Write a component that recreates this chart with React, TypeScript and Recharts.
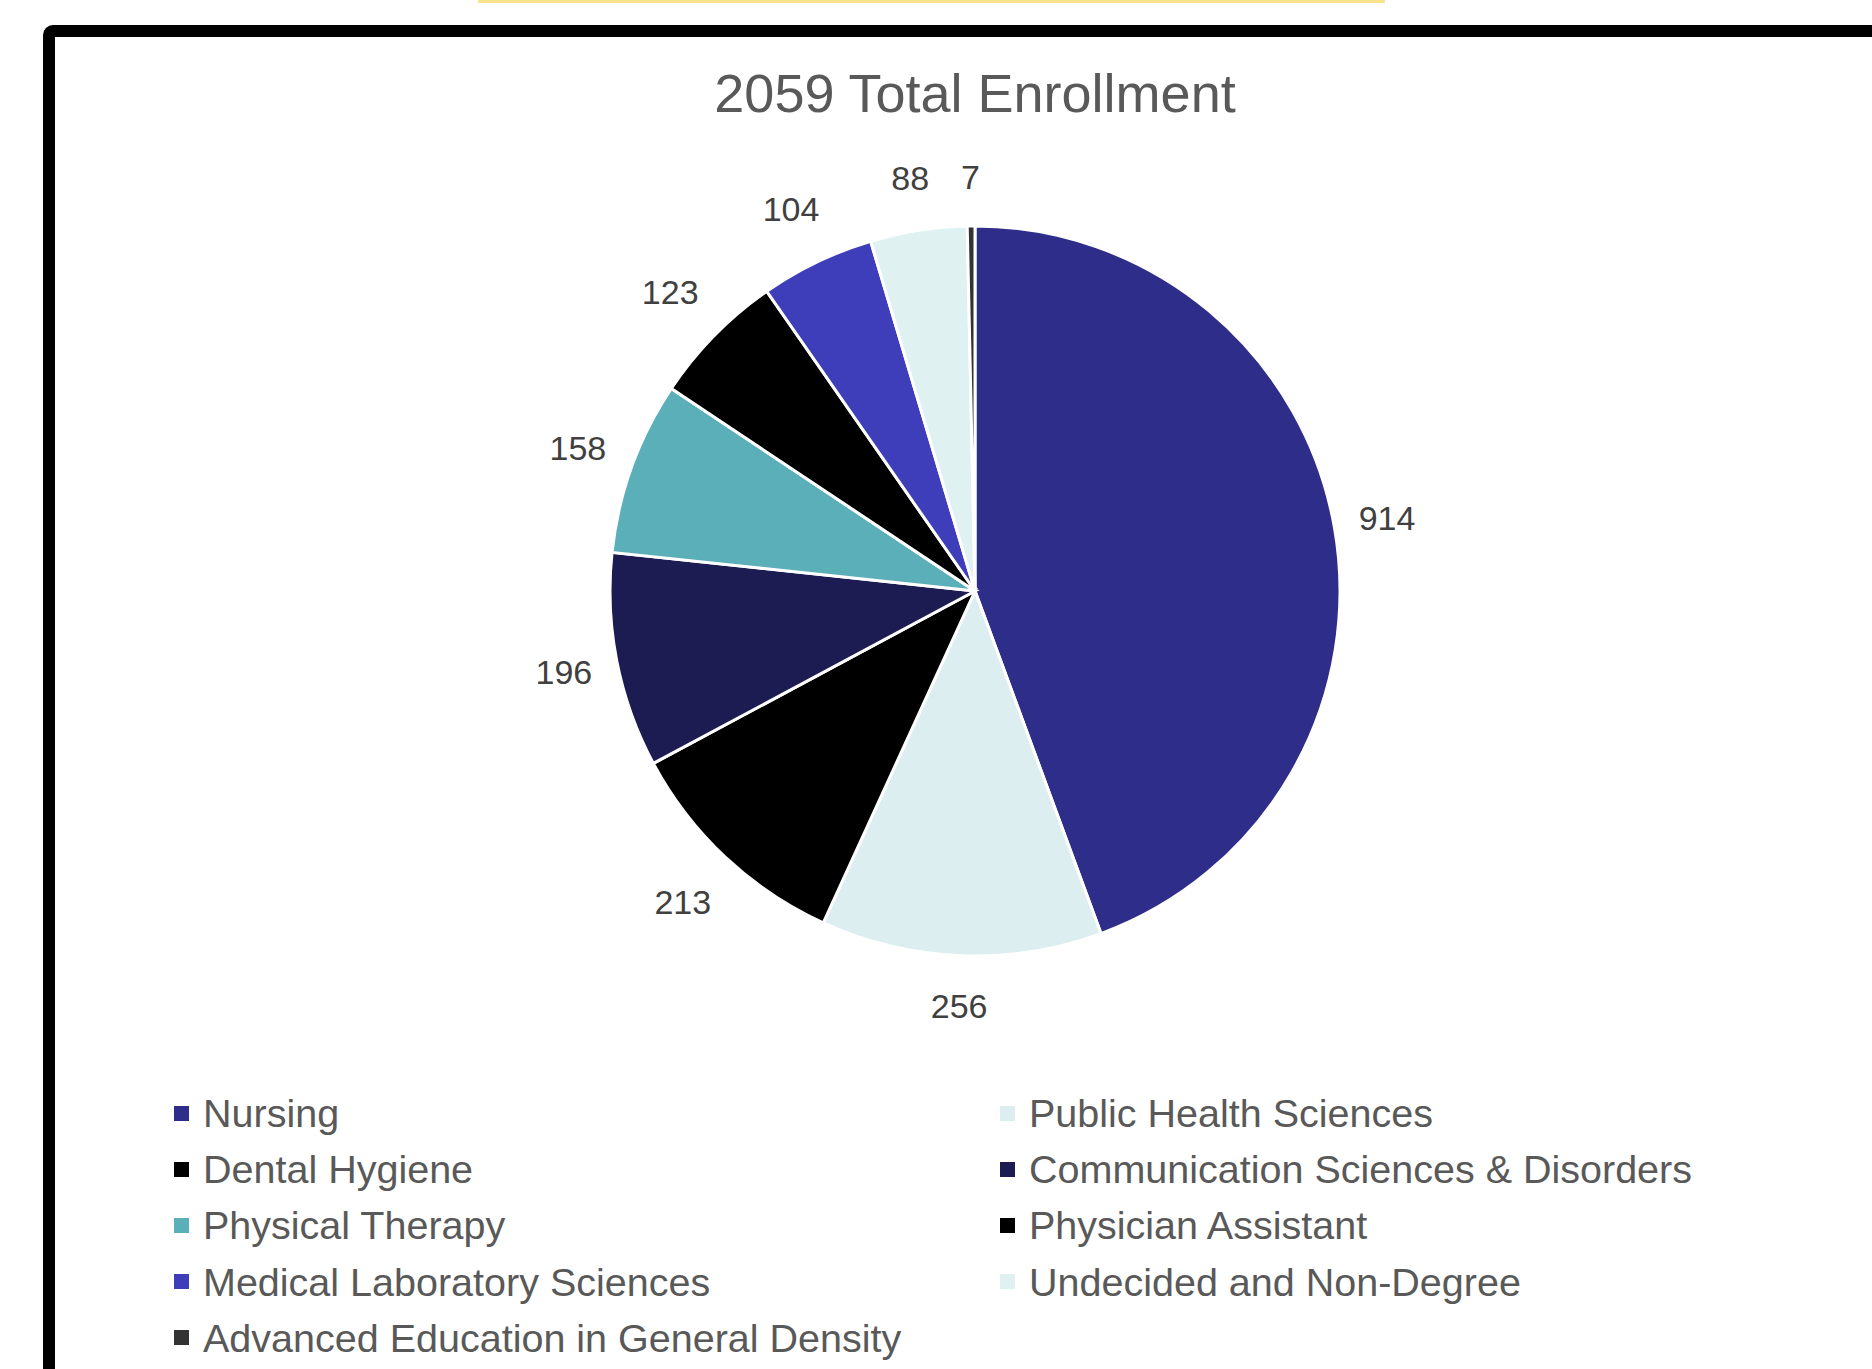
import React from 'react';
import { PieChart, Pie, Cell, Legend } from 'recharts';

const categories = [
  'Nursing',
  'Public Health Sciences',
  'Dental Hygiene',
  'Communication Sciences & Disorders',
  'Physical Therapy',
  'Physician Assistant',
  'Medical Laboratory Sciences',
  'Undecided and Non-Degree',
  'Advanced Education in General Density',
];
const values = [914, 256, 213, 196, 158, 123, 104, 88, 7];
const colors = [
  '#2E2E8A',
  '#DCEEF0',
  '#000000',
  '#1C1C52',
  '#5BAFB8',
  '#000000',
  '#3E3EBB',
  '#E0F1F1',
  '#333333',
];
const title = '2059 Total Enrollment';

const data = categories.map((name, i) => ({ name, value: values[i], fill: colors[i] }));

const FONT = '"Liberation Sans", Arial, sans-serif';

const renderLabel = (props: any) => {
  const { cx, cy, midAngle, outerRadius, value } = props;
  const RAD = Math.PI / 180;
  const r = outerRadius + 49 + 13 * Math.abs(Math.sin(2 * midAngle * RAD));
  const x = cx + r * Math.cos(-midAngle * RAD);
  const y = cy + r * Math.sin(-midAngle * RAD);
  return (
    <text
      x={x}
      y={y}
      dy="0.358em"
      textAnchor="middle"
      fill="#404040"
      fontSize={34}
      fontFamily={FONT}
    >
      {value}
    </text>
  );
};

const renderLegend = (props: any) => {
  const payload = [...(props.payload || [])].sort(
    (a: any, b: any) => categories.indexOf(a.value) - categories.indexOf(b.value)
  );
  return (
    <div
      style={{
        display: 'grid',
        gridTemplateColumns: '826px 1fr',
        fontFamily: FONT,
        fontSize: 39.5,
        color: '#595959',
      }}
    >
      {payload.map((entry: any, i: number) => (
        <div
          key={i}
          style={{ display: 'flex', alignItems: 'center', height: 56.2, lineHeight: '56px', whiteSpace: 'nowrap' }}
        >
          <span
            style={{
              display: 'inline-block',
              width: 15,
              height: 15,
              background: entry.color || (entry.payload && entry.payload.fill),
              marginRight: 14,
            }}
          />
          <span>{entry.value}</span>
        </div>
      ))}
    </div>
  );
};

export default function App() {
  return (
    <div
      style={{
        position: 'absolute',
        left: 0,
        top: 0,
        width: 1872,
        height: 1369,
        overflow: 'hidden',
        background: '#ffffff',
      }}
    >
      <div
        style={{
          position: 'absolute',
          left: 478,
          top: 0,
          width: 907,
          height: 3,
          background: '#FBE38E',
        }}
      />
      <div
        style={{
          position: 'absolute',
          left: 43,
          top: 25,
          width: 2000,
          height: 2000,
          border: '12px solid #000',
          borderTopLeftRadius: 10,
          boxSizing: 'border-box',
        }}
      />
      <div
        style={{
          position: 'absolute',
          left: 0,
          width: 1950,
          top: 66,
          textAlign: 'center',
          fontFamily: FONT,
          fontSize: 54,
          lineHeight: '54px',
          color: '#595959',
          whiteSpace: 'nowrap',
        }}
      >
        {title}
      </div>
      <div style={{ position: 'absolute', left: 0, top: 0 }}>
        <PieChart width={1872} height={1369} margin={{ top: 0, right: 0, bottom: 0, left: 0 }}>
          <Pie
            data={data}
            dataKey="value"
            nameKey="name"
            cx={975}
            cy={591}
            outerRadius={365}
            startAngle={90}
            endAngle={-270}
            stroke="#ffffff"
            strokeWidth={3}
            label={renderLabel}
            labelLine={false}
            isAnimationActive={false}
          >
            {data.map((d, i) => (
              <Cell key={i} fill={d.fill} />
            ))}
          </Pie>
          <Legend
            content={renderLegend}
            itemSorter={null as any}
            wrapperStyle={{ position: 'absolute', left: 174, top: 1085, width: 1600, bottom: 'auto' }}
          />
        </PieChart>
      </div>
    </div>
  );
}
